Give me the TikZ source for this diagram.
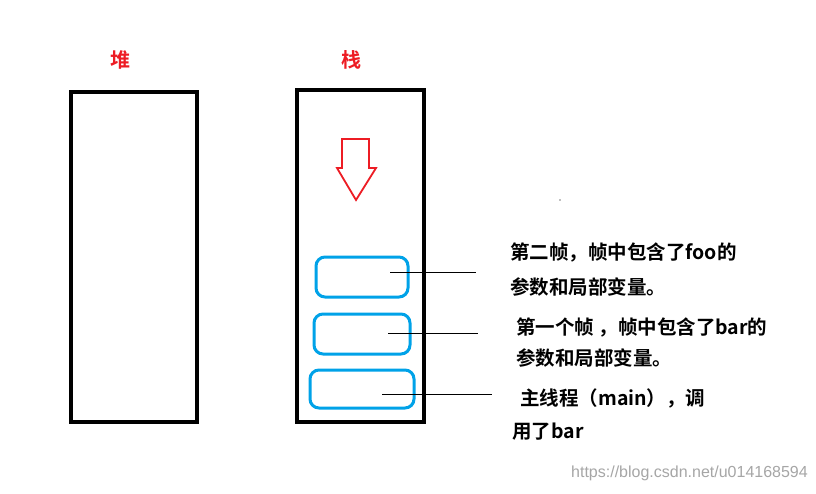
\documentclass[tikz,border=0pt]{standalone}
\usepackage{fontspec}
\newfontfamily\cjk{Noto Sans CJK SC}[BoldFont={Noto Sans CJK SC Bold}]
\definecolor{ared}{RGB}{237,28,36}
\definecolor{ablue}{RGB}{0,162,232}
\begin{document}
\begin{tikzpicture}[x=1pt,y=-1pt,
  box/.style={draw=black,line width=3.5pt},
  frame/.style={draw=ablue,line width=3pt,rounded corners=9pt},
  lbl/.style={anchor=west,font=\cjk\bfseries\fontsize{19.5}{22}\selectfont,inner sep=0pt},
  ttl/.style={font=\cjk\bfseries\fontsize{20}{22}\selectfont,text=ared}]
\useasboundingbox (0,0) rectangle (816,493);
\fill[white] (0,0) rectangle (816,493);
\draw[box] (71,92) rectangle (197,422);
\draw[box] (297,90) rectangle (424,422);
\node[ttl] (heap) at (120,60) {堆};
\node[ttl] (stack) at (351,60) {栈};
\draw[ared,line width=1.8pt,line join=miter] (342,139) -- (369,139) -- (369,168) -- (376,168) -- (356,200) -- (337,168) -- (342,168) -- cycle;
\draw[frame] (316,257) rectangle (408,297);
\draw[frame] (314,314) rectangle (410,354);
\draw[frame] (310,370) rectangle (414,408);
\node[lbl] (t1) at (510,252) {第二帧，帧中包含了foo的};
\node[lbl] (t1b) at (510,287) {参数和局部变量。};
\node[lbl] (t2) at (516,327) {第一个帧 ，帧中包含了bar的};
\node[lbl] (t2b) at (516,358) {参数和局部变量。};
\node[lbl] (t3) at (520,398) {主线程（main），调};
\node[lbl] (t3b) at (512,432) {用了bar};
\coordinate (a1) at (390,272); \coordinate (b1) at (476,272);
\coordinate (a2) at (388,333); \coordinate (b2) at (478,333);
\coordinate (a3) at (382,394); \coordinate (b3) at (492,394);
\draw[line width=0.6pt] (a1) -- (b1);
\draw[line width=0.6pt] (a2) -- (b2);
\draw[line width=0.6pt] (a3) -- (b3);
\fill[gray] (560,200) circle (0.8);
\node[anchor=east,text=gray!70,font=\fontspec{Liberation Sans}\fontsize{16}{18}\selectfont,inner sep=0pt] (wm) at (808,473) {https://blog.csdn.net/u014168594};
\end{tikzpicture}
\end{document}
